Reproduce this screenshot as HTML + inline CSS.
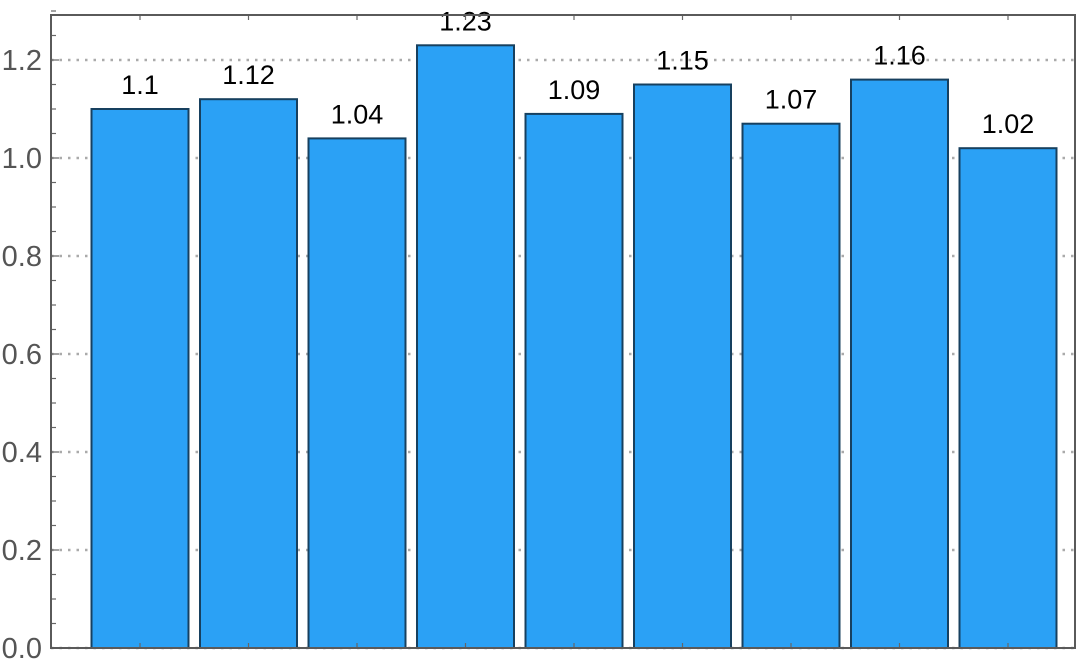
<!DOCTYPE html>
<html><head><meta charset="utf-8"><style>
html,body{margin:0;padding:0;background:#fff;}
svg{display:block;font-family:"Liberation Sans",sans-serif;}
</style></head><body>
<svg id="chart" width="1080" height="668"></svg>
<script>
const categories=["A","B","C","D","E","F","G","H","I"];
const values=[1.1,1.12,1.04,1.23,1.09,1.15,1.07,1.16,1.02];
const valueLabels=["1.1","1.12","1.04","1.23","1.09","1.15","1.07","1.16","1.02"];
const yTicks=[0,0.2,0.4,0.6,0.8,1.0,1.2];
const yTickLabels=["0.0","0.2","0.4","0.6","0.8","1.0","1.2"];
const NS="http://www.w3.org/2000/svg";
const svg=document.getElementById("chart");
const L=51,R=1075,T=15,B=648;
const y=v=>B-v*490;
const x0=140,step=108.5,bw=97;
const x=i=>x0+i*step;
function mk(t,a,p){const e=document.createElementNS(NS,t);for(const k in a)e.setAttribute(k,a[k]);(p||svg).appendChild(e);return e;}
yTicks.forEach((v,i)=>{
 const g=mk("line",{x1:L,x2:R,y1:y(v),y2:y(v),stroke:"#aaa","stroke-width":2.5,"stroke-dasharray":"2.5 6"});
 
 
});
for(let v=0;v<=1.3001;v+=0.05){
 const major=Math.abs(v/0.2-Math.round(v/0.2))<1e-6;
 mk("line",{x1:L,x2:L+(major?8:5),y1:y(v),y2:y(v),stroke:"#666","stroke-width":1.2});
}
values.forEach((v,i)=>{
 const r=mk("rect",{x:x(i)-bw/2,y:y(v),width:bw,height:B-y(v),fill:"#2ba1f5",stroke:"#17405f","stroke-width":2});
 
 
 const t=mk("text",{x:x(i),y:y(v)-15,"text-anchor":"middle","font-size":27,fill:"#000"});
 t.textContent=valueLabels[i];
 
 
 mk("line",{x1:x(i),x2:x(i),y1:B,y2:B-5,stroke:"#666","stroke-width":1.2});
 mk("line",{x1:x(i),x2:x(i),y1:T,y2:T+5,stroke:"#666","stroke-width":1.2});
});
const f=mk("rect",{x:L,y:T,width:R-L,height:B-T,fill:"none",stroke:"#5a5a5a","stroke-width":2});


yTicks.forEach((v,i)=>{
 const t=mk("text",{x:42,y:y(v)+10,"text-anchor":"end","font-size":29,fill:"#555"});
 t.textContent=yTickLabels[i];
 
 
});
</script>
</body></html>
